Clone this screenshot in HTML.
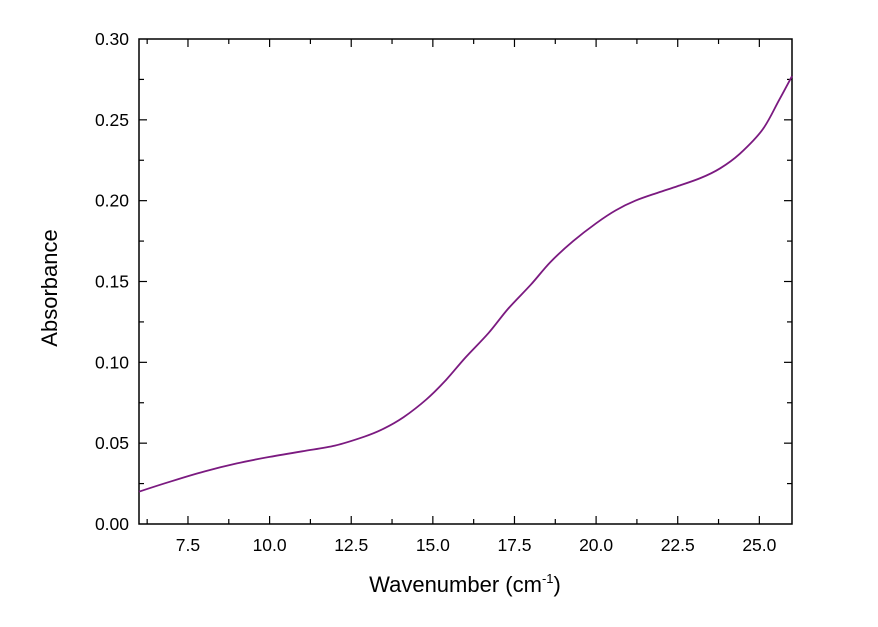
<!DOCTYPE html>
<html><head><meta charset="utf-8"><style>
body{margin:0;background:#fff;}
svg text{font-family:"Liberation Sans",Arial,sans-serif;fill:#000;}
</style></head><body>
<svg id="chart" width="878" height="622" xmlns="http://www.w3.org/2000/svg"></svg>
<script>
const xs=[6,7,8,9,10,11,12,12.9,13.5,14.1,14.8,15.4,16,16.7,17.3,18,18.6,19.3,20,20.6,21.2,21.9,22.5,23.2,23.8,24.4,25.1,25.6,26];
const ys=[0.020,0.0265,0.0325,0.0375,0.0415,0.045,0.0485,0.054,0.059,0.066,0.077,0.089,0.103,0.118,0.133,0.148,0.162,0.175,0.186,0.194,0.200,0.205,0.209,0.214,0.220,0.229,0.244,0.262,0.277];
const xTicks=[7.5,10.0,12.5,15.0,17.5,20.0,22.5,25.0];
const yTicks=[0,0.05,0.10,0.15,0.20,0.25,0.30];
const L=139,R=792,T=39,B=524,x0=6,x1=26,y0=0,y1=0.3;
const X=v=>L+(v-x0)/(x1-x0)*(R-L);
const Y=v=>B-(v-y0)/(y1-y0)*(B-T);
const svg=document.getElementById('chart');
const NS='http://www.w3.org/2000/svg';
function el(t,a,p){const e=document.createElementNS(NS,t);for(const k in a)e.setAttribute(k,a[k]);(p||svg).appendChild(e);return e;}
const frame=el('rect',{x:L,y:T,width:R-L,height:B-T,fill:'none',stroke:'#000','stroke-width':1.5});


for(let v=6.25;v<=26.001;v+=1.25){
  const major=Math.abs((v/2.5)-Math.round(v/2.5))<1e-6;
  const len=major?8:5;
  const px=X(v);
  const t1=el('line',{x1:px,x2:px,y1:B,y2:B-len,stroke:'#000','stroke-width':1.2});
  
  
  const t2=el('line',{x1:px,x2:px,y1:T,y2:T+len,stroke:'#000','stroke-width':1.2});
  
  
}
xTicks.forEach(v=>{
  const t=el('text',{x:X(v),y:B+27,'text-anchor':'middle','font-size':17.5});
  t.textContent=v.toFixed(1);
  
  
});
for(let v=0.025;v<0.3;v+=0.025){
  const major=Math.abs((v/0.05)-Math.round(v/0.05))<1e-6;
  const len=major?8:5;
  const py=Y(v);
  const t1=el('line',{x1:L,x2:L+len,y1:py,y2:py,stroke:'#000','stroke-width':1.2});
  
  
  const t2=el('line',{x1:R,x2:R-len,y1:py,y2:py,stroke:'#000','stroke-width':1.2});
  
  
}
yTicks.forEach(v=>{
  const t=el('text',{x:L-10,y:Y(v)+6,'text-anchor':'end','font-size':17.5});
  t.textContent=v.toFixed(2);
  
  
});
const P=xs.map((v,i)=>[X(v),Y(ys[i])]);
let d='M'+P[0][0].toFixed(1)+','+P[0][1].toFixed(1);
for(let i=0;i<P.length-1;i++){
  const p0=P[Math.max(0,i-1)],p1=P[i],p2=P[i+1],p3=P[Math.min(P.length-1,i+2)];
  const c1=[p1[0]+(p2[0]-p0[0])/6,p1[1]+(p2[1]-p0[1])/6];
  const c2=[p2[0]-(p3[0]-p1[0])/6,p2[1]-(p3[1]-p1[1])/6];
  d+=` C${c1[0].toFixed(1)},${c1[1].toFixed(1)} ${c2[0].toFixed(1)},${c2[1].toFixed(1)} ${p2[0].toFixed(1)},${p2[1].toFixed(1)}`;
}
const line=el('path',{d:d,fill:'none',stroke:'#7b1a80','stroke-width':1.8});


const xt=el('text',{x:465,y:592,'text-anchor':'middle','font-size':22});
xt.innerHTML='Wavenumber (cm<tspan dy="-9" font-size="13">-1</tspan><tspan dy="9">)</tspan>';


const yt=el('text',{x:0,y:0,'text-anchor':'middle','font-size':22,transform:'translate(57,288) rotate(-90)'});
yt.textContent='Absorbance';


</script>
</body></html>
